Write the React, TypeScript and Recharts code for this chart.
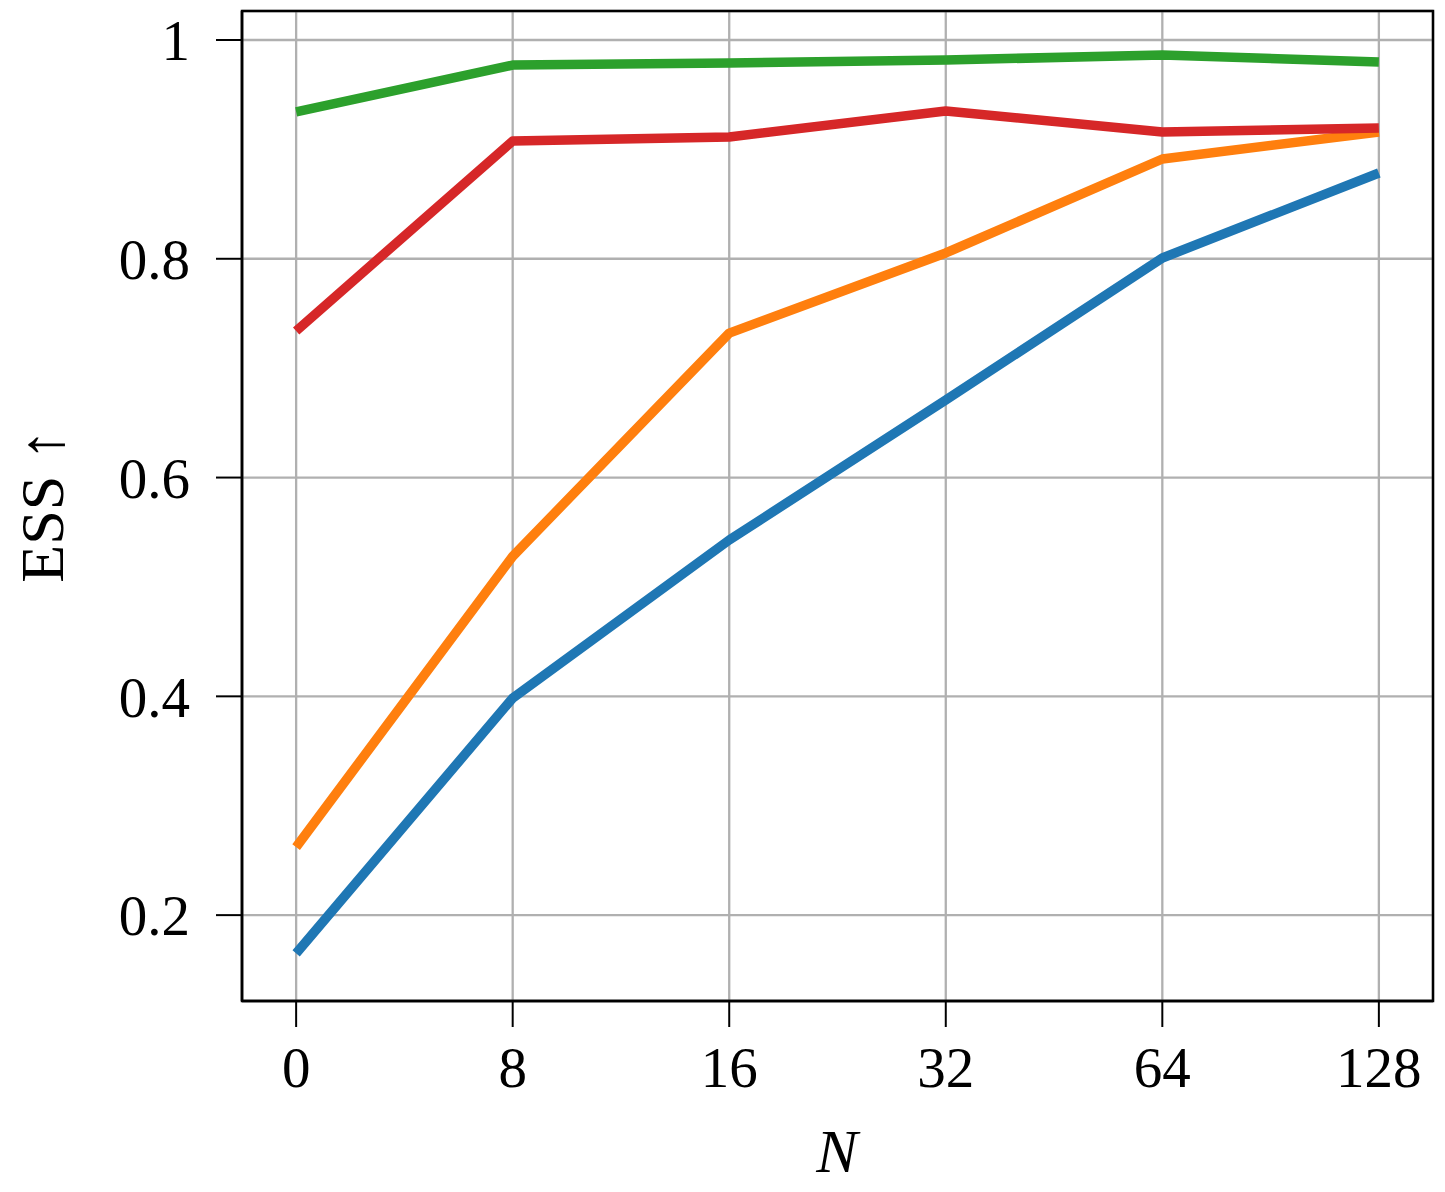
import React from 'react';
import { LineChart, Line, XAxis, YAxis, CartesianGrid, ReferenceArea, Label } from 'recharts';

const nLabels = ['0', '8', '16', '32', '64', '128'];
const blueSeries = [0.165, 0.3984, 0.5429, 0.6709, 0.8007, 0.8784];
const orangeSeries = [0.2622, 0.528, 0.732, 0.8053, 0.8912, 0.9159];
const greenSeries = [0.9342, 0.9771, 0.979, 0.9817, 0.9863, 0.9799];
const redSeries = [0.734, 0.9077, 0.9113, 0.9351, 0.9159, 0.9195];
const yTicks = [0.2, 0.4, 0.6, 0.8, 1];
const xTicks = [0, 1, 2, 3, 4, 5];

const data = nLabels.map((n, i) => ({
  idx: i,
  n,
  blue: blueSeries[i],
  orange: orangeSeries[i],
  green: greenSeries[i],
  red: redSeries[i],
}));

const FONT = '"Liberation Serif", serif';
const X_DOMAIN: [number, number] = [-0.25, 5.25];
const Y_DOMAIN: [number, number] = [0.1215, 1.0265];

export default function App() {
  const lineProps = {
    type: 'linear' as const,
    strokeWidth: 9.5,
    dot: false,
    activeDot: false,
    isAnimationActive: false,
    strokeLinecap: 'butt' as const,
    strokeLinejoin: 'round' as const,
  };
  return (
    <div style={{ position: 'absolute', left: 0, top: 0, background: '#fff' }}>
      <LineChart
        width={1445}
        height={1192}
        data={data}
        margin={{ top: 11, right: 12, left: 0, bottom: 0 }}
      >
        <CartesianGrid stroke="#b0b0b0" strokeWidth={2.3} />
        <XAxis
          dataKey="idx"
          type="number"
          domain={X_DOMAIN}
          ticks={xTicks}
          allowDataOverflow
          tickFormatter={(v: number) => nLabels[v]}
          height={191}
          tickSize={26}
          tickMargin={20}
          axisLine={{ stroke: '#000', strokeWidth: 2.5 }}
          tickLine={{ stroke: '#000', strokeWidth: 2 }}
          tick={{ fill: '#000', fontSize: 57, fontFamily: FONT }}
        >
          <Label
            content={() => (
              <text
                x={837}
                y={1172}
                textAnchor="middle"
                fontFamily={FONT}
                fontStyle="italic"
                fontSize={62}
                fill="#000"
              >
                N
              </text>
            )}
          />
        </XAxis>
        <YAxis
          type="number"
          domain={Y_DOMAIN}
          ticks={yTicks}
          allowDataOverflow
          tickFormatter={(v: number) => (v === 1 ? '1' : v.toFixed(1))}
          width={242}
          tickSize={26}
          tickMargin={26}
          axisLine={{ stroke: '#000', strokeWidth: 2.5 }}
          tickLine={{ stroke: '#000', strokeWidth: 2 }}
          tick={{ fill: '#000', fontSize: 57, fontFamily: FONT }}
        >
          <Label
            content={() => (
              <text
                x={63}
                y={506}
                transform="rotate(-90 63 506)"
                textAnchor="middle"
                fontFamily={FONT}
                fontSize={62}
                fill="#000"
              >
                ESS ↑
              </text>
            )}
          />
        </YAxis>
        <ReferenceArea
          x1={X_DOMAIN[0]}
          x2={X_DOMAIN[1]}
          y1={Y_DOMAIN[0]}
          y2={Y_DOMAIN[1]}
          fill="none"
          stroke="#000"
          strokeWidth={2.5}
          ifOverflow="visible"
        />
        <Line dataKey="blue" stroke="#1f77b4" {...lineProps} />
        <Line dataKey="orange" stroke="#ff7f0e" {...lineProps} />
        <Line dataKey="green" stroke="#2ca02c" {...lineProps} />
        <Line dataKey="red" stroke="#d62728" {...lineProps} />
      </LineChart>
    </div>
  );
}
